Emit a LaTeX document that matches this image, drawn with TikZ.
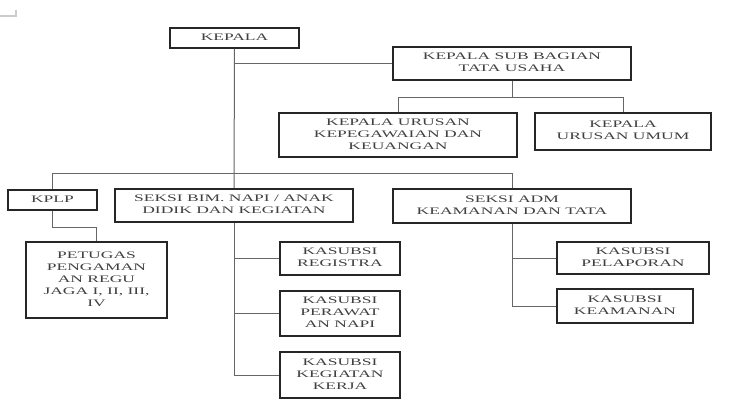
\documentclass[tikz,border=0pt]{standalone}
\usepackage{fontspec}
\usepackage{graphicx}
\setmainfont{Liberation Serif}
\usetikzlibrary{positioning}

\newcommand{\wtxt}[1]{\scalebox{1.75}[1]{\fontsize{10}{12}\selectfont
  \begin{tabular}{@{}c@{}}#1\end{tabular}}}

\begin{document}
\begin{tikzpicture}[x=1pt, y=-1pt,
    box/.style={draw=black!85, line width=1.6pt, inner sep=0pt, text=black!75},
    link/.style={draw=black!60, line width=1pt}]
    \useasboundingbox (0,0) rectangle (729,420);
    % top level
    \node[box, minimum width=129pt, minimum height=20pt] (kepala) at (234.5,38) {\wtxt{KEPALA}};
    \node[box, minimum width=238pt, minimum height=33pt] (tu) at (512,63.5) {\wtxt{KEPALA SUB BAGIAN\\TATA USAHA}};
    \node[box, minimum width=238pt, minimum height=44pt] (keu) at (398,135) {\wtxt{KEPALA URUSAN\\KEPEGAWAIAN DAN\\KEUANGAN}};
    \node[box, minimum width=176pt, minimum height=37pt] (umum) at (623,131.5) {\wtxt{KEPALA\\URUSAN UMUM}};
    % seksi
    \node[box, minimum width=89pt, minimum height=20pt] (kplp) at (52.5,200) {\wtxt{KPLP}};
    \node[box, minimum width=238pt, minimum height=33pt] (bim) at (234,205.5) {\wtxt{SEKSI BIM. NAPI / ANAK\\DIDIK DAN KEGIATAN}};
    \node[box, minimum width=238pt, minimum height=34pt] (adm) at (512,206) {\wtxt{SEKSI ADM\\KEAMANAN DAN TATA}};
    % bawah
    \node[box, minimum width=141pt, minimum height=76pt] (petugas) at (96.5,280) {\wtxt{PETUGAS\\PENGAMAN\\AN REGU\\JAGA I, II, III,\\IV}};
    \node[box, minimum width=120pt, minimum height=33pt] (registra) at (340,258.5) {\wtxt{KASUBSI\\REGISTRA}};
    \node[box, minimum width=120pt, minimum height=45pt] (perawat) at (340,313.5) {\wtxt{KASUBSI\\PERAWAT\\AN NAPI}};
    \node[box, minimum width=120pt, minimum height=46pt] (kerja) at (340,375) {\wtxt{KASUBSI\\KEGIATAN\\KERJA}};
    \node[box, minimum width=152pt, minimum height=32pt] (pelaporan) at (633,258) {\wtxt{KASUBSI\\PELAPORAN}};
    \node[box, minimum width=136pt, minimum height=34pt] (keamanan) at (625,306) {\wtxt{KASUBSI\\KEAMANAN}};

    \coordinate (bar) at (234,173);
    \draw[link] (kepala.south) -- (bim.north);
    \draw[link] (kepala.south |- tu.west) -- (tu.west);
    \draw[link] (tu.south) -- ++(0,17) coordinate (tubar);
    \draw[link] (keu.north) -- (keu.north |- tubar) -| (umum.north);
    \draw[link] (kplp.north) -- (kplp.north |- bar) -| (adm.north);
    \draw[link] (kplp.south) -- ++(0,17) -| (petugas.north);
    \draw[link] (bim.south) |- (kerja.west);
    \draw[link] (bim.south |- registra.west) -- (registra.west);
    \draw[link] (bim.south |- perawat.west) -- (perawat.west);
    \draw[link] (adm.south) |- (keamanan.west);
    \draw[link] (adm.south |- pelaporan.west) -- (pelaporan.west);
    % scan mark
    \draw[black!20, line width=1.5pt] (0,16) -- (16,16) -- (16,10);
\end{tikzpicture}
\end{document}
